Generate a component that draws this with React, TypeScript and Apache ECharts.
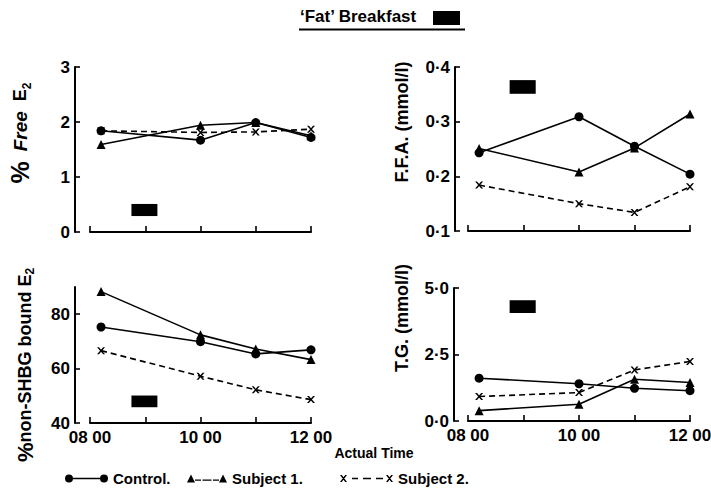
import React, { useEffect, useRef } from 'react';
import * as echarts from 'echarts';

// ---- data ----
const times = [8.2, 10, 11, 12];
const hourTicks = [8, 9, 10, 11, 12];
const hourLabels = [8, 10, 12];
const seriesNames = ['Control.', 'Subject 1.', 'Subject 2.'];

const freeE2Control = [1.84, 1.67, 1.99, 1.72];
const freeE2Subject1 = [1.59, 1.94, 1.99, 1.75];
const freeE2Subject2 = [1.84, 1.81, 1.82, 1.87];

const ffaControl = [0.243, 0.309, 0.255, 0.204];
const ffaSubject1 = [0.251, 0.208, 0.252, 0.314];
const ffaSubject2 = [0.184, 0.15, 0.134, 0.181];

const nonShbgControl = [75.3, 69.9, 65.4, 66.9];
const nonShbgSubject1 = [88.3, 72.4, 67.2, 63.3];
const nonShbgSubject2 = [66.6, 57.2, 52.2, 48.6];

const tgControl = [1.61, 1.4, 1.23, 1.14];
const tgSubject1 = [0.39, 0.63, 1.57, 1.45];
const tgSubject2 = [0.92, 1.07, 1.92, 2.24];

const breakfastTime = [8.75, 9.22];
const freeE2Bar = [0.29, 0.51];
const ffaBar = [0.351, 0.376];
const nonShbgBar = [45.8, 50.1];
const tgBar = [4.06, 4.54];

const freeE2Ticks = [0, 1, 2, 3];
const ffaTicks = [0.1, 0.2, 0.3, 0.4];
const nonShbgTicks = [40, 60, 80];
const tgTicks = [0, 2.5, 5];

// ---- styling ----
const FONT = '"Liberation Sans", Arial, sans-serif';
const BLACK = '#000';
const xSymbol = 'path://M0,0L2.4,0L10,10L7.6,10Z M7.6,0L10,0L2.4,10L0,10Z';
const dotFmt = (v: number) => v.toFixed(1).replace('.', '·');
const intFmt = (v: number) => String(Math.round(v));
const hourFmt = (v: number) => (v < 10 ? '0' : '') + Math.round(v) + ' 00';

const legendIcons = [
  'path://M0,4A4,4 0 1,1 8,4A4,4 0 1,1 0,4Z M35,4A4,4 0 1,1 43,4A4,4 0 1,1 35,4Z M8,3.3H35V4.7H8Z',
  'path://M0,8L4,0L8,8Z M32,8L36,0L40,8Z M8,4.9H14V6.3H8Z M15.5,4.9H24.5V6.3H15.5Z M26,4.9H32V6.3H26Z',
  'path://M0,0L1.8,0L7,7L5.2,7Z M5.2,0L7,0L1.8,7L0,7Z M46,0L47.8,0L53,7L51.2,7Z M51.2,0L53,0L47.8,7L46,7Z M12,2.8H18V4.2H12Z M23,2.8H31V4.2H23Z M36,2.8H43V4.2H36Z',
];
const legendWidths = [43, 40, 53];
const legendHeights = [8, 8, 7];
const legendLefts = [65, 187, 340];

type Panel = {
  grid: { left: number; top: number; width: number; height: number };
  yMin: number;
  yMax: number;
  yTicks: number[];
  fmt: (v: number) => string;
  showX: boolean;
  offset: number;
  values: number[][];
  bar: number[];
};

const panels: Panel[] = [
  { grid: { left: 90, top: 67, width: 221, height: 165 }, yMin: 0, yMax: 3, yTicks: freeE2Ticks, fmt: intFmt, showX: false, offset: 15,
    values: [freeE2Control, freeE2Subject1, freeE2Subject2], bar: freeE2Bar },
  { grid: { left: 468, top: 67, width: 222, height: 164 }, yMin: 0.1, yMax: 0.4, yTicks: ffaTicks, fmt: dotFmt, showX: false, offset: 13,
    values: [ffaControl, ffaSubject1, ffaSubject2], bar: ffaBar },
  { grid: { left: 90, top: 287, width: 221, height: 136 }, yMin: 40, yMax: 90, yTicks: nonShbgTicks, fmt: intFmt, showX: true, offset: 15,
    values: [nonShbgControl, nonShbgSubject1, nonShbgSubject2], bar: nonShbgBar },
  { grid: { left: 468, top: 288, width: 222, height: 133 }, yMin: 0, yMax: 5, yTicks: tgTicks, fmt: dotFmt, showX: true, offset: 14,
    values: [tgControl, tgSubject1, tgSubject2], bar: tgBar },
];

const labelStyle = { color: BLACK, fontFamily: FONT, fontWeight: 'bold' as const };

function buildOption() {
  const grid = panels.map((p) => ({ ...p.grid, containLabel: false, outerBoundsMode: 'none' }));
  const xAxis = panels.map((p, i) => ({
    gridIndex: i,
    type: 'value',
    min: 8,
    max: 12,
    interval: 1,
    axisLine: { show: true, onZero: false, lineStyle: { color: BLACK, width: 2 } },
    axisTick: { show: true, inside: true, length: 6, customValues: hourTicks, lineStyle: { color: BLACK, width: 1.6 } },
    axisLabel: { show: p.showX, customValues: hourLabels, formatter: hourFmt, margin: 6, fontSize: 17, ...labelStyle },
    splitLine: { show: false },
  }));
  const yAxis = panels.map((p, i) => ({
    gridIndex: i,
    type: 'value',
    min: p.yMin,
    max: p.yMax,
    offset: p.offset,
    axisLine: { show: true, onZero: false, lineStyle: { color: BLACK, width: 2 } },
    axisTick: { show: true, inside: true, length: 5, customValues: p.yTicks, lineStyle: { color: BLACK, width: 1.6 } },
    axisLabel: { show: true, customValues: p.yTicks, formatter: p.fmt, margin: 5, fontSize: 17, ...labelStyle },
    splitLine: { show: false },
  }));
  const series: any[] = [];
  panels.forEach((p, i) => {
    p.values.forEach((vals, k) => {
      const s: any = {
        type: 'line',
        name: seriesNames[k],
        xAxisIndex: i,
        yAxisIndex: i,
        data: times.map((t, j) => [t, vals[j]]),
        symbol: k === 0 ? 'circle' : k === 1 ? 'triangle' : xSymbol,
        symbolSize: k === 0 ? 9 : k === 1 ? 9 : [8, 7],
        itemStyle: { color: BLACK, borderWidth: 0 },
        lineStyle: { color: BLACK, width: 1.6, type: k === 2 ? [6, 4] : 'solid' },
        clip: false,
        z: 3,
      };
      if (k === 0) {
        s.markArea = {
          silent: true,
          itemStyle: { color: BLACK, borderWidth: 0 },
          data: [[{ coord: [breakfastTime[0], p.bar[0]] }, { coord: [breakfastTime[1], p.bar[1]] }]],
        };
      }
      series.push(s);
    });
  });

  const legend = seriesNames.map((name, k) => ({
    left: legendLefts[k],
    top: 471,
    padding: 0,
    itemWidth: legendWidths[k],
    itemHeight: legendHeights[k],
    selectedMode: false,
    itemStyle: { borderWidth: 0 },
    textStyle: { fontSize: 15, ...labelStyle },
    data: [{ name, icon: legendIcons[k] }],
  }));

  const nameText = (x: number, y: number, text: string, rich: any) => ({
    type: 'text',
    x,
    y,
    rotation: Math.PI / 2,
    style: {
      text,
      rich,
      fill: BLACK,
      font: `bold 18px ${FONT}`,
      fontSize: 18,
      fontWeight: 'bold',
      fontFamily: FONT,
      align: 'center',
      verticalAlign: 'middle',
      textAlign: 'center',
      textVerticalAlign: 'middle',
    },
  });

  const graphic = [
    nameText(20, 133, '{p|%}  {i|Free}  E{s|2}', {
      p: { fontSize: 25, fontWeight: 'bold', fontFamily: FONT, fill: BLACK },
      i: { fontSize: 19, fontWeight: 'bold', fontStyle: 'italic', fontFamily: FONT, fill: BLACK },
      s: { fontSize: 12, fontWeight: 'bold', fontFamily: FONT, fill: BLACK, verticalAlign: 'bottom', padding: [6, 0, 0, 0] },
    }),
    nameText(25, 365, '{p|%}non-SHBG bound E{s|2}', {
      p: { fontSize: 22, fontWeight: 'bold', fontFamily: FONT, fill: BLACK },
      s: { fontSize: 12, fontWeight: 'bold', fontFamily: FONT, fill: BLACK, verticalAlign: 'bottom', padding: [6, 0, 0, 0] },
    }),
    nameText(402, 122, 'F.F.A. (mmol/l)', undefined),
    nameText(402, 318, 'T.G. (mmol/l)', undefined),
    {
      type: 'text',
      x: 374,
      y: 453,
      style: {
        text: 'Actual Time',
        fill: BLACK,
        font: `bold 14px ${FONT}`,
        align: 'center',
        verticalAlign: 'middle',
        textAlign: 'center',
        textVerticalAlign: 'middle',
      },
    },
    { type: 'line', shape: { x1: 299, y1: 29.5, x2: 465, y2: 29.5 }, style: { stroke: BLACK, lineWidth: 2 } },
    { type: 'rect', shape: { x: 433, y: 11, width: 27, height: 14 }, style: { fill: BLACK } },
  ];

  return {
    animation: false,
    backgroundColor: '#fff',
    title: {
      text: '‘Fat’ Breakfast',
      left: 300,
      top: 8,
      padding: 0,
      textStyle: { fontSize: 17, ...labelStyle },
    },
    grid,
    xAxis,
    yAxis,
    series,
    legend,
    graphic,
  };
}

export default function App() {
  const ref = useRef<HTMLDivElement>(null);
  useEffect(() => {
    const chart = echarts.init(ref.current!, null, { renderer: 'svg' });
    chart.setOption(buildOption() as any);
    return () => chart.dispose();
  }, []);
  return (
    <div
      ref={ref}
      style={{ position: 'fixed', left: 0, top: 0, width: 711, height: 488, background: '#fff' }}
    />
  );
}
